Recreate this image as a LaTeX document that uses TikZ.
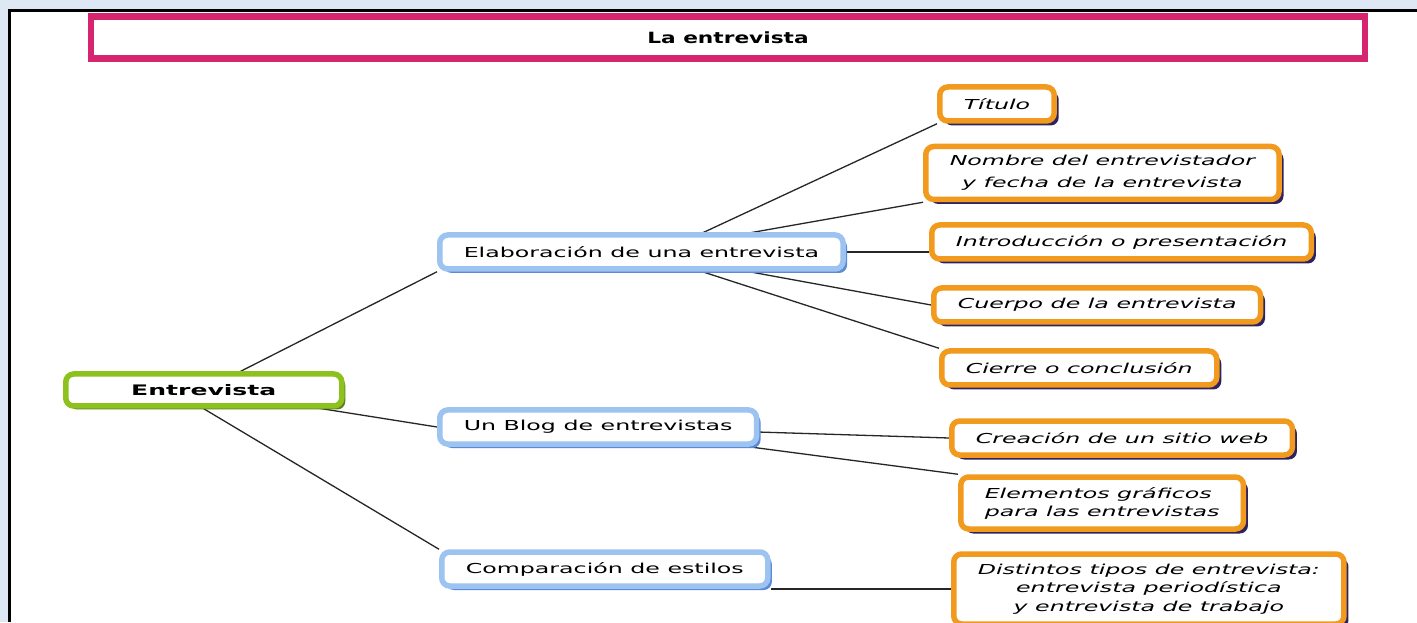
\documentclass[tikz,border=0pt]{standalone}
\usepackage{fontspec}
\setmainfont[FakeStretch=1.73]{DejaVu Sans}
\newfontfamily\titlefont[FakeStretch=1.4]{DejaVu Sans}
\usetikzlibrary{shadows}
\definecolor{fondo}{HTML}{DEE8F4}
\definecolor{rosa}{HTML}{D6246E}
\definecolor{naranja}{HTML}{F29A1E}
\definecolor{marino}{HTML}{2E2260}
\definecolor{azul}{HTML}{9DC3F0}
\definecolor{azulsombra}{HTML}{5A8AD8}
\definecolor{verde}{HTML}{8CC11E}
\definecolor{verdesombra}{HTML}{5E7F1A}
\pgfdeclarelayer{marco}
\pgfdeclarelayer{lineas}
\pgfsetlayers{marco,lineas,main}
\tikzset{
  caja/.style={rectangle, rounded corners=8pt, fill=white, line width=5.5pt, inner xsep=24pt, inner ysep=0pt, minimum height=34pt, anchor=west},
  tema/.style={caja, draw=azul, font=\fontsize{13.7}{19}\selectfont, drop shadow={shadow xshift=4pt, shadow yshift=-4pt, fill=azulsombra, opacity=1}},
  sub/.style={caja, draw=naranja, font=\fontsize{13.7}{19}\selectfont\itshape, drop shadow={shadow xshift=4.5pt, shadow yshift=-4.5pt, fill=marino, opacity=1}},
  raiz/.style={caja, draw=verde, minimum width=276pt, minimum height=32pt, font=\fontsize{14.5}{19}\selectfont\bfseries, drop shadow={shadow xshift=3.5pt, shadow yshift=-3.5pt, fill=verdesombra, opacity=1}},
  titulo/.style={rectangle, draw=rosa, line width=6.5pt, fill=white, minimum width=1274pt, minimum height=42pt, font=\titlefont\bfseries\fontsize{15.5}{18}\selectfont},
  linea/.style={line width=1.3pt, draw=black!85}
}
\begin{document}
\begin{tikzpicture}[x=1pt,y=1pt]
\useasboundingbox (0,0) rectangle (1417,622);
\begin{pgfonlayer}{marco}
\fill [fondo] (0,0) rectangle (1417,622);
\fill [white] (9.5,0) rectangle (1417,611.5);
\draw [line width=3pt] (9.5,0) -- (9.5,611.5) -- (1417,611.5);
\end{pgfonlayer}
\node [titulo] (titulo) at (728,584.5) {La entrevista};
% mapa
\node [raiz] (ent) at (63,232) {Entrevista};
\node [tema] (ela) at (437,370) {Elaboración de una entrevista};
\node [tema] (blog) at (437,195) {Un Blog de entrevistas};
\node [tema] (comp) at (439,53) {Comparación de estilos};
\node [sub] (tit) at (937,518) {Título};
\node [sub, align=center, minimum height=53pt, font=\fontsize{13.7}{22}\selectfont\itshape] (nom) at (923,449) {Nombre del entrevistador\\y fecha de la entrevista};
\node [sub] (intro) at (929,380) {Introducción o presentación};
\node [sub] (cue) at (931,317) {Cuerpo de la entrevista};
\node [sub] (cie) at (939,254) {Cierre o conclusión};
\node [sub] (cre) at (949,184) {Creación de un sitio web};
\node [sub, align=left, minimum height=52pt, font=\fontsize{13.7}{18}\selectfont\itshape] (ele) at (958,119) {Elementos gráficos\\para las entrevistas};
\node [sub, align=center, minimum height=70pt, font=\fontsize{13.7}{18.5}\selectfont\itshape] (dis) at (951,33) {Distintos tipos de entrevista:\\entrevista periodística\\y entrevista de trabajo};
\begin{pgfonlayer}{lineas}
\draw [linea] (ent.center) -- (ela.south west);
\draw [linea] (ent.center) -- (blog.west);
\draw [linea] (ent.south) -- (comp.north west);
\draw [linea] ([xshift=20pt]ela.center) -- (tit.south west);
\draw [linea] (ela.center) -- (nom.south west);
\draw [linea] (ela.center) -- (ela.center -| intro.west);
\draw [linea] (ela.center) -- (cue.west);
\draw [linea] (ela.center) -- (cie.north west);
\draw [linea] (blog.center) -- (cre.west);
\draw [linea] (blog.center) -- (ele.north west);
\draw [linea] (dis.west) -- (dis.west -| comp.east);
\end{pgfonlayer}
\end{tikzpicture}
\end{document}
